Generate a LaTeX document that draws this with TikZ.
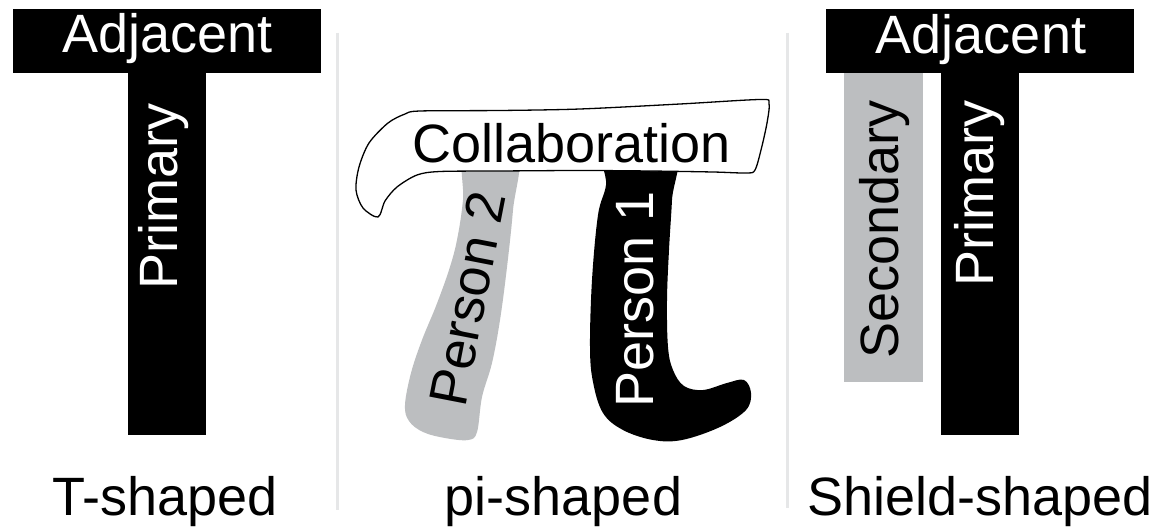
\documentclass[tikz,border=0pt]{standalone}
\usepackage{fontspec}
\setmainfont{Liberation Sans}
\definecolor{legGray}{HTML}{BCBEC0}
\definecolor{sepGray}{HTML}{E6E7E8}
\begin{document}
\begin{tikzpicture}[x=1pt,y=-1pt,
  bar/.style={rectangle, draw=none, inner sep=0pt, outer sep=0pt},
  lbl/.style={inner sep=0pt, outer sep=0pt, font=\fontsize{54}{60}\selectfont, text=black},
  wlbl/.style={lbl, text=white},
  sepline/.style={draw=sepGray, line width=3pt},
  banner/.style={draw=black, line width=1.3pt, fill=white, line join=round}]
\useasboundingbox[fill=white] (0,0) rectangle (1170,527);
% separators
\coordinate (s1a) at (337,33); \coordinate (s1b) at (337,510);
\coordinate (s2a) at (787,33); \coordinate (s2b) at (787,508);
\draw[sepline] (s1a) -- (s1b);
\draw[sepline] (s2a) -- (s2b);
% T-shaped
\node[bar, fill=black, minimum width=308pt, minimum height=64pt] (adjL) at (167,41) {};
\node[bar, fill=black, minimum width=78pt, minimum height=362pt] (primL) at (167,254) {};
\node[wlbl, anchor=base] (adjLt) at (167.5,53) {Adjacent};
\node[wlbl, anchor=base, rotate=90] (primLt) at (177,196.5) {Primary};
\node[lbl, anchor=base] (tshaped) at (165,515) {T-shaped};
% Shield-shaped
\node[bar, fill=black, minimum width=308pt, minimum height=64pt] (adjR) at (980,41) {};
\node[bar, fill=black, minimum width=78pt, minimum height=362pt] (primR) at (980,254) {};
\node[bar, fill=legGray, minimum width=79pt, minimum height=309pt] (secR) at (883.5,227.5) {};
\node[wlbl, anchor=base] (adjRt) at (981,54) {Adjacent};
\node[wlbl, anchor=base, rotate=90] (primRt) at (993,193.5) {Primary};
\node[lbl, anchor=base, rotate=90] (secRt) at (898,229.5) {Secondary};
\node[lbl, anchor=base] (shield) at (980,515) {Shield-shaped};
% pi-shaped legs
\fill[legGray] plot[smooth cycle, tension=0.6] coordinates {(466,150) (463,200) (457,240) (449,270) (436,306) (422,340) (411,373) (405,405) (409,421) (423,432) (445,438) (468,440) (477,432) (482,397) (492,363) (500,320) (507,267) (513,210) (517,150)};
\fill[black] plot[smooth cycle, tension=0.6] coordinates {(607,150) (606,185) (598,215) (592,280) (590,347) (593,382) (603,413) (623,430) (653,440) (682,440) (720,427) (746,410) (751,393) (744,380) (727,383) (703,390) (684,386) (673,370) (668,347) (667,300) (669,250) (672,200) (674,150)};
% banner
\draw[banner] plot[smooth cycle, tension=0.5] coordinates {(420,111) (500,110.5) (580,109) (680,104) (760,99.5) (769,103) (767,123) (761,150) (755,170) (747,173) (713,172) (650,171) (580,170.5) (500,171) (440,171.5) (417,175) (397,187) (385,201) (378,217) (363,208) (356,190) (359,167) (369,143) (388,123) (405,114)};
\node[lbl, anchor=base] (collt) at (572,162) {Collaboration};
\node[wlbl, anchor=base, rotate=90] (p1t) at (653,299) {Person 1};
\node[lbl, anchor=base, rotate=79] (p2t) at (486,302) {Person 2};
\node[lbl, anchor=base] (pishaped) at (563.5,515) {pi-shaped};
\end{tikzpicture}
\end{document}
